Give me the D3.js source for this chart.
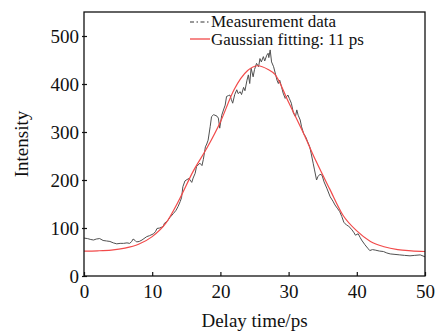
<!DOCTYPE html>
<html>
<head>
<meta charset="utf-8">
<script src="https://cdn.jsdelivr.net/npm/d3@7"></script>
<style>
  body { margin: 0; background: #fff; }
  text { font-family: "Liberation Serif", "Times New Roman", serif; fill: #111; }
</style>
</head>
<body>
<div class="canvas"></div>
<script>
const measTime = [0,0.5,1,1.4,1.8,2.3,2.8,3.3,3.8,4.3,4.8,5.3,5.8,6.3,6.7,7.0,7.2,7.5,7.7,8.1,8.5,8.8,9.2,9.6,10.2,10.5,10.7,11.1,11.6,11.8,
  12.2,12.6,13.1,13.5,13.8,14.1,14.3,14.5,14.8,15.1,15.4,15.8,16.0,16.3,16.5,17.0,17.3,17.5,17.8,18.0,18.2,18.5,18.7,19.0,19.2,19.5,19.7,19.9,
  20.2,20.5,20.7,20.9,21.2,21.4,21.6,21.8,22.1,22.4,22.6,22.9,23.1,23.4,23.6,23.9,24.1,24.3,24.5,24.8,25.0,25.3,25.6,25.8,26.0,26.3,26.5,26.8,
  27.0,27.1,27.3,27.5,27.8,28.0,28.3,28.5,28.7,29.0,29.2,29.5,29.9,30.1,30.4,30.7,31.0,31.2,31.4,31.7,31.9,32.2,32.5,32.7,33.1,33.3,33.6,33.8,
  34.1,34.3,34.6,34.9,35.2,35.6,36.1,36.5,36.8,37.2,37.5,37.8,38.1,38.5,38.8,39.3,39.6,39.8,40.2,40.5,40.7,41.2,41.6,41.9,42.3,42.7,43.3,43.9,
  44.4,44.9,45.6,46.3,47.0,47.8,48.5,49.3,50];
const measValue = [79,78,76,75,77,78,74,73,72,69,67,68,68,69,68,72,77,74,71,72,75,78,82,84,88,93,99,100,103,110,
  114,122,130,137,145,155,163,186,198,201,203,195,204,214,228,235,230,243,269,275,283,311,332,336,335,333,329,308,
  335,348,356,374,376,377,368,360,378,388,380,384,378,393,386,408,419,401,433,415,430,443,436,453,446,457,448,460,
  464,455,471,446,436,425,408,401,408,392,381,370,377,370,360,340,332,346,335,325,311,297,290,283,269,256,235,221,
  200,207,212,210,196,183,165,156,148,140,134,124,112,106,104,96,90,85,88,80,75,65,58,53,55,54,52,51,
  48,46,45,44,43,42,43,44,40];

// gaussian fit curve
const fitTime = [0,2,4,6,8,10,12,14,16,18,20,22,24,25.5,27,28,30,32,34,36,38,40,42,44,46,48,50];
const fitValue = [52,52.5,54,58,66,82,110,160,218,266,321,388,428,438,430,420,362,303,240,182,126,94,72,61,55,52.5,51];

const xTicks = [0,10,20,30,40,50];
const yTicks = [0,100,200,300,400,500];

const W = 435, H = 333;
const margin = {top: 12, right: 10, bottom: 57, left: 84};
const plotW = 425 - margin.left, plotH = 276 - margin.top;

const svg = d3.select('.canvas').append('svg')
  .attr('width', W).attr('height', H);

const x = d3.scaleLinear().domain([0, 50]).range([margin.left, margin.left + plotW]);
const y = d3.scaleLinear().domain([0, 550]).range([margin.top + plotH, margin.top]);

// curves
const meas = measTime.map((t, i) => [t, measValue[i]]);
const fit = fitTime.map((t, i) => [t, fitValue[i]]);

svg.append('path')
  .datum(meas)
  .attr('fill', 'none')
  .attr('stroke', '#505050')
  .attr('stroke-width', 1)
  .attr('d', d3.line().x(d => x(d[0])).y(d => y(d[1])));

svg.append('path')
  .datum(fit)
  .attr('fill', 'none')
  .attr('stroke', '#f24a4a')
  .attr('stroke-width', 1.2)
  .attr('d', d3.line().curve(d3.curveMonotoneX).x(d => x(d[0])).y(d => y(d[1])));

// frame
svg.append('rect')
  .attr('x', x(0)).attr('y', y(550))
  .attr('width', x(50) - x(0)).attr('height', y(0) - y(550))
  .attr('fill', 'none').attr('stroke', '#111').attr('stroke-width', 1.3);

// axes, ticks point inward a bit
const xAxis = svg.append('g').attr('transform', `translate(0,${y(0)})`)
  .call(d3.axisBottom(x).tickValues(xTicks).tickSize(-4).tickPadding(9).tickFormat(d3.format('d')));
const yAxis = svg.append('g').attr('transform', `translate(${x(0)},0)`)
  .call(d3.axisLeft(y).tickValues(yTicks).tickSize(2).tickPadding(3).tickFormat(d3.format('d')));

[xAxis, yAxis].forEach(g => {
  g.select('.domain').remove();
  g.selectAll('line').attr('stroke', '#111').attr('stroke-width', 1.2);
  g.selectAll('text').style('font-family', '"Liberation Serif", serif').style('font-size', '19px').attr('fill', '#111');
});
yAxis.selectAll('line').attr('x2', 3).attr('x1', -2);

// axis titles
svg.append('text')
  .attr('x', (x(0) + x(50)) / 2).attr('y', 327)
  .attr('text-anchor', 'middle')
  .style('font-size', '19px')
  .text('Delay time/ps');

svg.append('text')
  .attr('transform', `translate(28,${(y(0) + y(550)) / 2}) rotate(-90)`)
  .attr('text-anchor', 'middle')
  .style('font-size', '19px')
  .text('Intensity');

// legend
const lg = svg.append('g');
lg.append('line').attr('x1', 190).attr('x2', 209).attr('y1', 22).attr('y2', 22)
  .attr('stroke', '#333').attr('stroke-width', 1.1).attr('stroke-dasharray', '4,2.5,1.5,2.5');
lg.append('text').attr('x', 211).attr('y', 27).style('font-size', '17px').text('Measurement data');
lg.append('line').attr('x1', 190).attr('x2', 210).attr('y1', 39).attr('y2', 39)
  .attr('stroke', '#f24a4a').attr('stroke-width', 1.3);
lg.append('text').attr('x', 211).attr('y', 45).style('font-size', '17px').text('Gaussian fitting: 11 ps');
</script>
</body>
</html>
